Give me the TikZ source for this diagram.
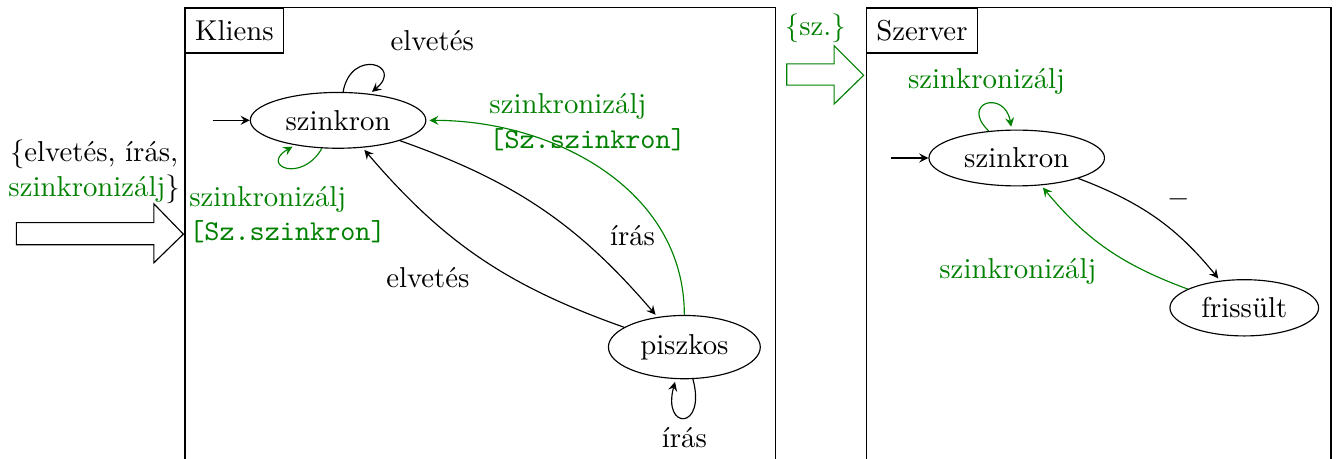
\documentclass[tikz,border=0pt]{standalone}
\usepackage{amsmath}
\usepackage{tikz}
\usetikzlibrary{automata,positioning,shapes.geometric}

\colorlet{zold}{green!50!black}
\tikzset{
  allapot/.style={draw, ellipse},
  cimke/.style={draw, minimum height=5.5mm, anchor=north west},
}

\begin{document}
\begin{tikzpicture}[>=stealth, initial text=]
        \useasboundingbox (0,0) rectangle (16.345,-5.607);

        % keretek
        \draw (2.26,-5.8) rectangle (9.47,-0.09);
        \draw (10.58,-5.8) rectangle (16.26,-0.09);
        \node[cimke] at (2.26,-0.09) (kliens){Kliens};
        \node[cimke] at (10.58,-0.09) (szerver){Szerver};

        % bemenetek
        \node[align=center] at (1.15,-2.10) (kbe){\{elvetés, írás,\\\textcolor{zold}{szinkronizálj}\}};
        \draw (0.20,-2.72) -- (1.88,-2.72) -- (1.88,-2.49) -- (2.24,-2.86)
              -- (1.88,-3.21) -- (1.88,-2.99) -- (0.20,-2.99) -- cycle;
        \node[text=zold] at (9.96,-0.34) (sbe){\{sz.\}};
        \draw[zold] (9.61,-0.78) -- (10.19,-0.78) -- (10.19,-0.56) -- (10.55,-0.92)
              -- (10.19,-1.27) -- (10.19,-1.04) -- (9.61,-1.04) -- cycle;

        % allapotok
        \node[allapot, initial] at (4.13,-1.47) (ksz){szinkron};
        \node[allapot] at (8.36,-4.24) (pk){piszkos};
        \node[allapot, initial] at (12.42,-1.93) (ssz){szinkron};
        \node[allapot] at (15.20,-3.76) (fr){frissült};

        \draw[every loop]
        (ksz) edge[out=80, in=40, distance=5.5mm] node[above right, xshift=1mm, yshift=0.5mm] {elvetés} (ksz)
        (ksz) edge[zold, out=240, in=210, distance=5mm] node[below, align=left, yshift=-1mm] {szinkronizálj\\\texttt{[Sz.szinkron]}} (ksz)
        (ksz) edge[bend left=15, auto=left] node[pos=0.75] {írás} (pk)
        (pk) edge[bend left=15, auto=left] node[pos=0.5] {elvetés} (ksz)
        (pk) edge[zold, out=90, in=0] node[pos=0.55, above, align=left] {szinkronizálj\\\texttt{[Sz.szinkron]}} (ksz)
        (pk) edge[out=285, in=255, distance=6.5mm] node[below] {írás} (pk)
        (ssz) edge[zold, out=136, in=100, distance=5mm] node[above] {szinkronizálj} (ssz)
        (ssz) edge[bend left=15, auto=left] node {$-$} (fr)
        (fr) edge[zold, bend left=15, auto=left] node {szinkronizálj} (ssz);
    \end{tikzpicture}
\end{document}
